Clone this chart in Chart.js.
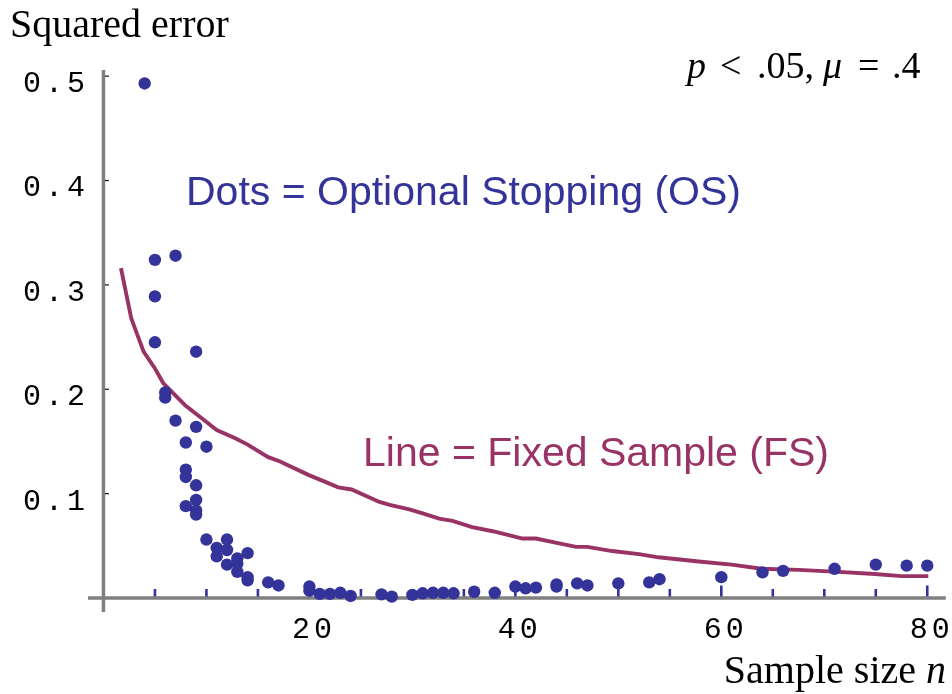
<!DOCTYPE html>
<html>
<head>
<meta charset="utf-8">
<script src="https://cdn.jsdelivr.net/npm/chart.js@4.4.1/dist/chart.umd.min.js"></script>
<style>
  html, body { margin: 0; padding: 0; background: #ffffff; }
  #wrap { width: 952px; height: 694px; position: relative; }
</style>
</head>
<body>
<div id="wrap"><canvas id="c" width="952" height="694"></canvas></div>
<script>
// ---- Data ----
// Optional Stopping (dots): sample size n and squared error
const osN = [4, 5, 5, 5, 6, 6, 7, 7, 8, 8, 8, 8, 9, 9, 9, 9, 9, 9, 10, 10, 11, 11, 12, 12, 12,
             13, 13, 13, 14, 14, 14, 16, 17, 20, 20, 21, 22, 23, 24, 27, 28, 30, 31, 32, 33, 34,
             36, 38, 40, 41, 42, 44, 44, 46, 47, 50, 53, 54, 60, 64, 66, 71, 75, 78, 80];
const osErr = [0.493, 0.324, 0.289, 0.245, 0.197, 0.192, 0.328, 0.170, 0.149, 0.123, 0.116, 0.088,
               0.236, 0.164, 0.108, 0.094, 0.084, 0.080, 0.145, 0.056, 0.048, 0.040, 0.056, 0.046, 0.032,
               0.038, 0.033, 0.025, 0.043, 0.020, 0.017, 0.015, 0.012, 0.011, 0.007, 0.004, 0.004, 0.005,
               0.002, 0.0035, 0.0013, 0.003, 0.0045, 0.005, 0.005, 0.0045, 0.006, 0.005, 0.011, 0.0093,
               0.010, 0.013, 0.011, 0.014, 0.012, 0.014, 0.015, 0.018, 0.020, 0.0246, 0.026, 0.028,
               0.032, 0.031, 0.031];
// Fixed Sample (line)
const fsN = [1.7, 2.7, 3.9, 5.0, 5.8, 7.9, 9.7, 11.0, 12.8, 14.0, 16.0, 17.1, 19.9, 21.6, 22.8, 24.1,
             26.8, 27.9, 29.7, 31.0, 32.6, 33.9, 35.8, 37.8, 40.7, 42.0, 43.9, 45.9, 47.0, 49.4, 52.0,
             53.9, 57.8, 61.0, 63.9, 67.5, 71.4, 74.9, 77.5, 80.1];
const fsErr = [0.316, 0.268, 0.236, 0.220, 0.206, 0.185, 0.171, 0.161, 0.153, 0.147, 0.135, 0.131,
               0.118, 0.111, 0.106, 0.104, 0.092, 0.089, 0.085, 0.081, 0.076, 0.074, 0.068, 0.064,
               0.057, 0.057, 0.053, 0.049, 0.049, 0.045, 0.042, 0.039, 0.035, 0.032, 0.028, 0.027,
               0.025, 0.023, 0.021, 0.021];
// Tick values
const xTickValues = [20, 40, 60, 80];
const xMinorTicks = [5, 10, 15, 20, 25, 30, 35, 40, 45, 50, 55, 60, 65, 70, 75, 80];
const yTickValues = [0.1, 0.2, 0.3, 0.4, 0.5];

// Texts
const yTitle = 'Squared error';
const xTitle = 'Sample size ';
const xTitleVar = 'n';
const osLabel = 'Dots = Optional Stopping (OS)';
const fsLabel = 'Line = Fixed Sample (FS)';

const DOT = '#333399';
const LINE = '#993366';

const decor = {
  id: 'decor',
  beforeDraw(chart) {
    chart.ctx.letterSpacing = '4px';
  },
  beforeDatasetsDraw(chart) {
    const ctx = chart.ctx;
    ctx.letterSpacing = '0px';
    const xs = chart.scales.x, ys = chart.scales.y, a = chart.chartArea;
    const x0 = xs.getPixelForValue(0), y0 = ys.getPixelForValue(0);
    ctx.save();
    ctx.strokeStyle = '#808080';
    ctx.lineWidth = 3.5;
    ctx.beginPath();
    ctx.moveTo(x0, a.top - 2); ctx.lineTo(x0, a.bottom);
    ctx.moveTo(a.left, y0); ctx.lineTo(a.right, y0);
    ctx.stroke();
    ctx.strokeStyle = DOT;
    ctx.lineWidth = 2.6;
    for (const v of xMinorTicks) {
      const px = xs.getPixelForValue(v);
      const len = xTickValues.includes(v) ? 11 : 7.5;
      ctx.beginPath();
      ctx.moveTo(px, y0 - 1.5);
      ctx.lineTo(px, y0 - 1.5 - len);
      ctx.stroke();
    }
    ctx.strokeStyle = '#222222';
    ctx.lineWidth = 1.3;
    for (const v of yTickValues) {
      const py = ys.getPixelForValue(v);
      ctx.beginPath();
      ctx.moveTo(x0 + 1.5, py);
      ctx.lineTo(x0 + 5.5, py);
      ctx.stroke();
    }
    ctx.restore();
  },
  afterDraw(chart) {
    const ctx = chart.ctx;
    ctx.save();
    ctx.letterSpacing = '0px';
    ctx.textBaseline = 'alphabetic';
    ctx.textAlign = 'left';
    ctx.fillStyle = '#000000';
    ctx.font = '40px "Liberation Serif"';
    ctx.fillText(yTitle, 10, 37);
    // x title, right aligned at 946
    ctx.font = 'italic 40px "Liberation Serif"';
    const wn = ctx.measureText(xTitleVar).width;
    ctx.font = '40px "Liberation Serif"';
    const wt = ctx.measureText(xTitle).width;
    const xr = 946;
    ctx.fillText(xTitle, xr - wn - wt, 683);
    ctx.font = 'italic 40px "Liberation Serif"';
    ctx.fillText(xTitleVar, xr - wn, 683);
    // annotation p < .05, mu = .4
    const by = 78;
    ctx.font = 'italic 38px "Liberation Serif"';
    ctx.fillText('p', 687, by);
    ctx.font = '38px "Liberation Serif"';
    ctx.fillText('<', 720, by);
    ctx.fillText('.05,', 757, by);
    ctx.font = 'italic 38px "Liberation Serif"';
    ctx.fillText('\u03BC', 823, by);
    ctx.font = '38px "Liberation Serif"';
    ctx.fillText('=', 858, by);
    ctx.fillText('.4', 892, by);
    // series labels
    ctx.font = '41px "Liberation Sans"';
    ctx.fillStyle = DOT;
    ctx.fillText(osLabel, 186, 205);
    ctx.fillStyle = LINE;
    ctx.fillText(fsLabel, 363, 466);
    ctx.restore();
  }
};

const monoFont = { family: '"Liberation Mono", "Courier New", monospace', size: 30 };

new Chart(document.getElementById('c'), {
  type: 'scatter',
  data: {
    datasets: [
      {
        label: 'OS',
        data: osN.map((n, i) => ({ x: n, y: osErr[i] })),
        backgroundColor: DOT,
        borderWidth: 0,
        pointRadius: 6.2,
        order: 0
      },
      {
        label: 'FS',
        data: fsN.map((n, i) => ({ x: n, y: fsErr[i] })),
        showLine: true,
        borderColor: LINE,
        borderWidth: 3.9,
        pointRadius: 0,
        tension: 0,
        fill: false,
        order: 1
      }
    ]
  },
  options: {
    responsive: false,
    animation: false,
    events: [],
    layout: { padding: { left: 0, right: 4, top: 72, bottom: 0 } },
    plugins: { legend: { display: false }, tooltip: { enabled: false }, title: { display: false } },
    scales: {
      x: {
        type: 'linear',
        min: -1.5,
        max: 81.8,
        grid: { display: false },
        border: { display: false },
        ticks: { font: monoFont, color: '#000000', padding: -8, labelOffset: 4.5, maxRotation: 0, autoSkip: false,
                 callback: (v) => String(v) },
        afterBuildTicks: (s) => { s.ticks = xTickValues.map(v => ({ value: v })); },
        afterFit: (s) => { s.height = 82; }
      },
      y: {
        type: 'linear',
        min: -0.0134,
        max: 0.504,
        grid: { display: false },
        border: { display: false },
        ticks: { font: monoFont, color: '#000000', padding: -9, labelOffset: 8, autoSkip: false,
                 callback: (v) => String(v) },
        afterBuildTicks: (s) => { s.ticks = yTickValues.map(v => ({ value: v })); },
        afterFit: (s) => { s.width = 88; }
      }
    }
  },
  plugins: [decor]
});
</script>
</body>
</html>
